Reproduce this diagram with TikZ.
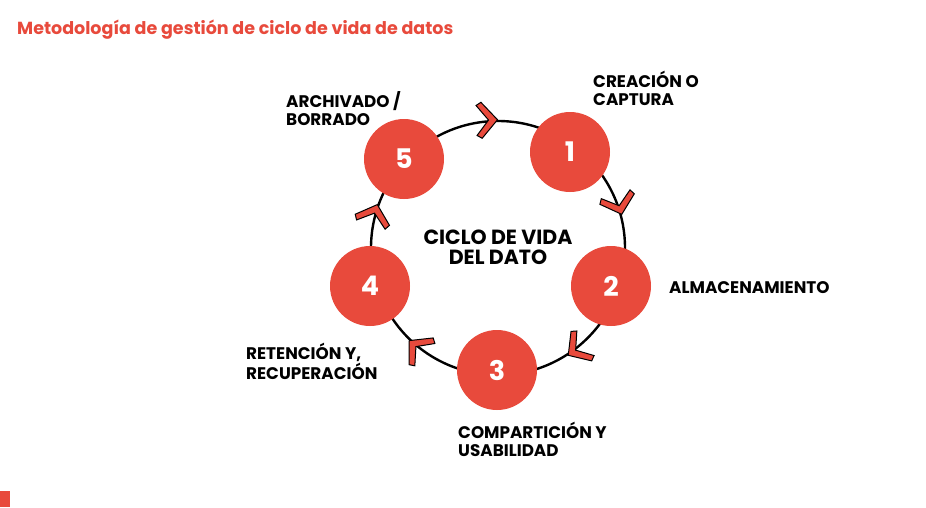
\documentclass[tikz,border=0pt]{standalone}
\usepackage{fontspec}
\setmainfont{Poppins}
\definecolor{brandred}{HTML}{E84A3C}
\begin{document}
\begin{tikzpicture}[x=1pt,y=-1pt,
  stage/.style={circle, fill=brandred, minimum size=80pt, inner sep=0pt, text=white, font=\bfseries\fontsize{27}{27}\selectfont},
  lbl/.style={anchor=north west, inner sep=0pt, align=left, font=\bfseries\fontsize{16.8}{18}\selectfont},
  chev/.pic={\filldraw[fill=brandred, draw=black, line width=1pt, line join=miter]
     (4,0) -- (-12,18) -- (-17,15) -- (-5,0) -- (-17,-15) -- (-12,-18) -- cycle;}]
\fill[white] (0,0) rectangle (926,507);
\useasboundingbox (0,0) rectangle (926,507);
\node[anchor=west, inner sep=0pt, text=brandred, font=\bfseries\fontsize{17.5}{20}\selectfont] (title) at (17,30) {Metodología de gestión de ciclo de vida de datos};
\fill[brandred] (0,491) rectangle (10,507);
\node[circle, draw=black, line width=2.4pt, minimum size=254pt, inner sep=0pt] (ring) at (498,248) {};
\pic[rotate=2] at (ring.92) {chev};
\pic[rotate=-73] at (ring.17) {chev};
\pic[rotate=-145] at (ring.-55) {chev};
\pic[rotate=138] at (ring.-132) {chev};
\pic[rotate=72] at (ring.162) {chev};
\node[stage] (s1) at (570,152) {1};
\node[stage] (s2) at (611,286) {2};
\node[stage] (s3) at (497,370) {3};
\node[stage] (s4) at (370,286) {4};
\node[stage] (s5) at (404,159) {5};
\node[align=center, inner sep=0pt, font=\bfseries\fontsize{20.5}{20}\selectfont] (center) at (498,247) {CICLO DE VIDA\\DEL DATO};
\node[lbl] (l1) at (593,71) {CREACIÓN O\\CAPTURA};
\node[lbl, anchor=west] (l2) at (669,288) {ALMACENAMIENTO};
\node[lbl] (l3) at (458,422) {COMPARTICIÓN Y\\USABILIDAD};
\node[lbl] (l4) at (246,343) {RETENCIÓN Y,\\RECUPERACIÓN};
\node[lbl] (l5) at (286,91) {ARCHIVADO /\\BORRADO};
\end{tikzpicture}
\end{document}
